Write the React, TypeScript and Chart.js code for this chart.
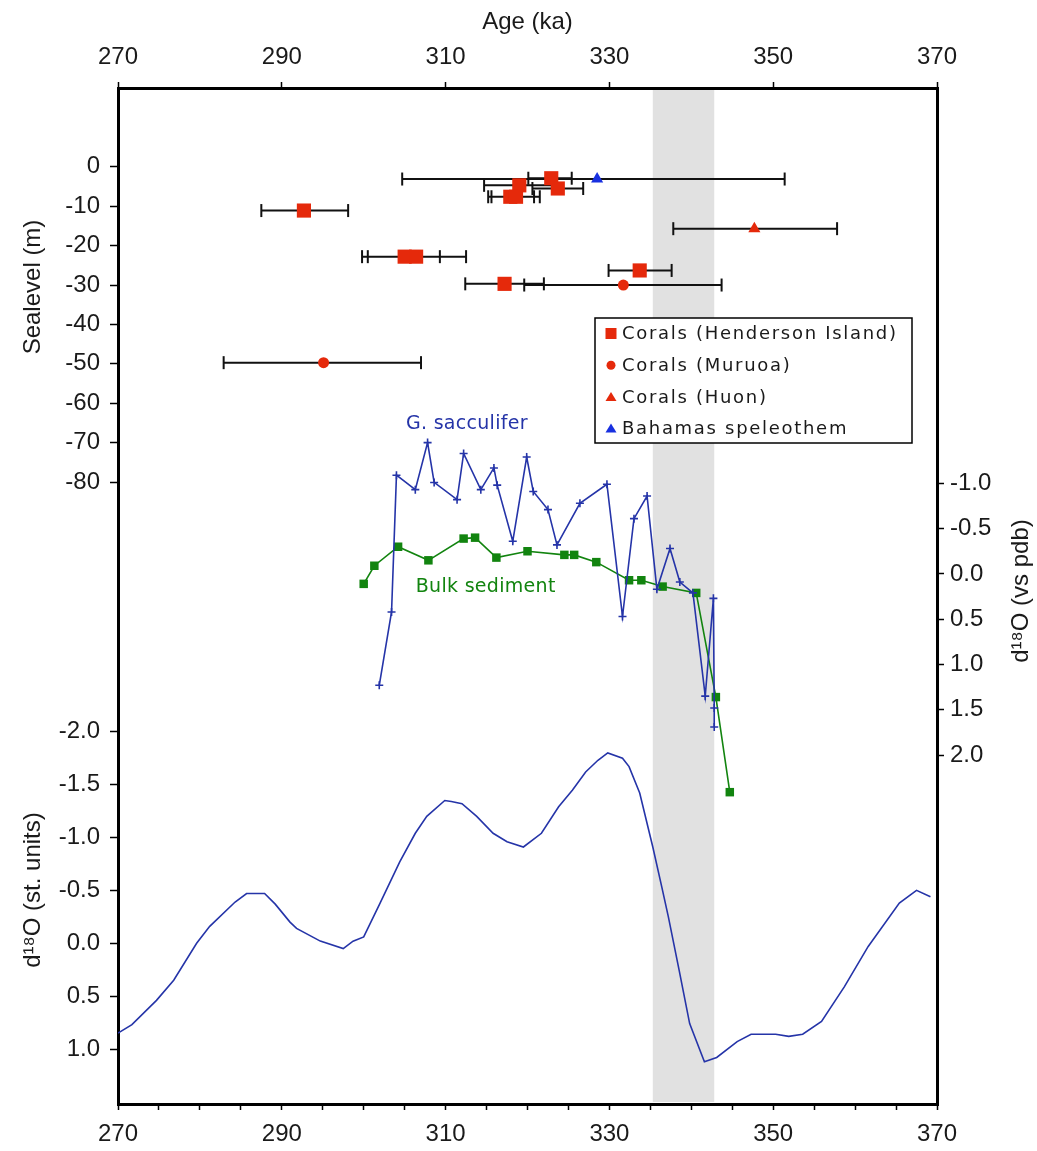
import React, { useEffect, useRef } from 'react';
import { Chart, registerables } from 'chart.js';

Chart.register(...registerables);

// ---------------- axis definitions ----------------
const ageMin = 270;
const ageMax = 370;
const ageTickLabels = [270, 290, 310, 330, 350, 370];
const sealevelTicks = [0, -10, -20, -30, -40, -50, -60, -70, -80];
const stdTicks = [-2.0, -1.5, -1.0, -0.5, 0.0, 0.5, 1.0];
const pdbTicks = [-1.0, -0.5, 0.0, 0.5, 1.0, 1.5, 2.0];

// ---------------- sea level data (age ka, sea level m, age error range) ----------------
const hendersonAge = [292.7, 305.0, 306.4, 317.2, 333.7, 322.9, 319.0, 323.7, 317.9, 318.6];
const hendersonLevel = [-11.1, -22.8, -22.8, -29.7, -26.3, -2.9, -4.7, -5.5, -7.6, -7.6];
const hendersonAgeMin = [287.5, 299.8, 300.5, 312.4, 329.9, 320.1, 314.7, 320.6, 315.2, 315.6];
const hendersonAgeMax = [298.1, 309.3, 312.5, 322.0, 337.6, 325.4, 323.3, 326.8, 320.8, 321.5];

const muruoaAge = [295.1, 331.7];
const muruoaLevel = [-49.7, -30.0];
const muruoaAgeMin = [282.9, 319.6];
const muruoaAgeMax = [307.0, 343.7];

const huonAge = [347.7];
const huonLevel = [-15.7];
const huonAgeMin = [337.8];
const huonAgeMax = [357.8];

const bahamasAge = [328.5];
const bahamasLevel = [-3.1];
const bahamasAgeMin = [304.7];
const bahamasAgeMax = [351.4];

// ---------------- d18O (vs pdb) ----------------
const saccAge = [301.9, 303.4, 304.0, 306.3, 307.8, 308.6, 311.4, 312.2, 314.3, 315.9, 316.3, 318.2, 319.9, 320.7, 322.5, 323.6, 326.4, 329.7, 331.6, 333.0, 334.6, 335.8, 337.4, 338.6, 340.2, 341.7, 342.7, 342.8, 342.8];
const saccValue = [1.23, 0.42, -1.09, -0.93, -1.45, -1.01, -0.82, -1.33, -0.93, -1.17, -0.98, -0.36, -1.29, -0.91, -0.71, -0.32, -0.78, -0.99, 0.47, -0.61, -0.86, 0.17, -0.28, 0.09, 0.21, 1.35, 0.27, 1.48, 1.69];

const bulkAge = [300.0, 301.3, 304.2, 307.9, 312.2, 313.6, 316.2, 320.0, 324.5, 325.7, 328.4, 332.4, 333.9, 336.5, 340.6, 343.0, 344.7];
const bulkValue = [0.11, -0.09, -0.30, -0.15, -0.39, -0.40, -0.18, -0.25, -0.21, -0.21, -0.13, 0.07, 0.07, 0.14, 0.21, 1.36, 2.41];

// ---------------- d18O stack (st. units) ----------------
const stackAge = [270.0, 271.7, 274.7, 276.8, 279.6, 281.2, 284.3, 285.7, 287.9, 289.2, 291.0, 291.8, 294.7, 297.5, 298.7, 300.0, 302.0, 304.4, 306.3, 307.7, 309.9, 310.7, 312.0, 313.8, 315.8, 317.5, 319.5, 321.7, 323.8, 325.5, 327.1, 328.6, 329.8, 331.6, 332.4, 333.7, 335.3, 336.4, 337.2, 338.5, 339.8, 341.6, 343.1, 345.6, 347.3, 350.3, 351.9, 353.6, 355.9, 358.7, 361.6, 365.4, 367.5, 369.2];
const stackValue = [0.85, 0.77, 0.54, 0.35, 0.00, -0.16, -0.39, -0.47, -0.47, -0.37, -0.20, -0.14, -0.02, 0.05, -0.02, -0.06, -0.38, -0.77, -1.04, -1.20, -1.35, -1.34, -1.32, -1.20, -1.04, -0.96, -0.91, -1.04, -1.29, -1.45, -1.62, -1.73, -1.80, -1.75, -1.67, -1.42, -0.91, -0.53, -0.25, 0.25, 0.76, 1.12, 1.08, 0.93, 0.86, 0.86, 0.88, 0.86, 0.74, 0.41, 0.03, -0.38, -0.50, -0.44];

// shaded interval (ka)
const bandStart = 335.3;
const bandEnd = 342.8;

// ---------------- styles ----------------
const RED = '#e5290b';
const BLUE = '#1830e0';
const NAVY = '#2534a8';
const GREEN = '#12840f';
const TXT = '#1a1a1a';
const FONT = '"Liberation Sans", Arial, sans-serif';
const LABEL_FONT = '"DejaVu Sans", Verdana, sans-serif';
const RIGHT_TITLE = 'd¹⁸O (vs pdb)';

const legendItems = [
  { label: 'Corals (Henderson Island)', shape: 'rect', color: RED },
  { label: 'Corals (Muruoa)', shape: 'circle', color: RED },
  { label: 'Corals (Huon)', shape: 'triangle', color: RED },
  { label: 'Bahamas speleothem', shape: 'triangle', color: BLUE },
];

const seriesLabels = [
  { text: 'G. sacculifer', age: 312.6, value: -1.65, color: NAVY },
  { text: 'Bulk sediment', age: 314.9, value: 0.14, color: GREEN },
];

const toPts = (xs: number[], ys: number[]) => xs.map((x, i) => ({ x, y: ys[i] }));

function buildErrorBars() {
  const out: { x: number; y: number | null }[] = [];
  const add = (levels: number[], mins: number[], maxs: number[]) => {
    levels.forEach((y, i) => {
      out.push({ x: mins[i], y });
      out.push({ x: maxs[i], y });
      out.push({ x: maxs[i], y: null });
    });
  };
  add(hendersonLevel, hendersonAgeMin, hendersonAgeMax);
  add(muruoaLevel, muruoaAgeMin, muruoaAgeMax);
  add(huonLevel, huonAgeMin, huonAgeMax);
  add(bahamasLevel, bahamasAgeMin, bahamasAgeMax);
  return out;
}

const overlayPlugin = {
  id: 'overlay',
  beforeDatasetsDraw(chart: any) {
    const { ctx, chartArea, scales } = chart;
    const x0 = scales.x.getPixelForValue(bandStart);
    const x1 = scales.x.getPixelForValue(bandEnd);
    ctx.save();
    ctx.fillStyle = '#e1e1e1';
    ctx.fillRect(x0, chartArea.top + 2, x1 - x0, chartArea.bottom - chartArea.top - 4);
    ctx.restore();
  },
  afterDatasetsDraw(chart: any) {
    const { ctx, scales } = chart;
    ctx.save();
    // series labels
    ctx.font = `19px ${LABEL_FONT}`;
    (ctx as any).letterSpacing = '0.3px';
    ctx.textAlign = 'center';
    ctx.textBaseline = 'middle';
    seriesLabels.forEach((s) => {
      ctx.fillStyle = s.color;
      ctx.fillText(s.text, scales.x.getPixelForValue(s.age), scales.yPdb.getPixelForValue(s.value));
    });
    // legend
    const L = 595, T = 318, W = 317, H = 125;
    ctx.fillStyle = '#ffffff';
    ctx.fillRect(L, T, W, H);
    ctx.strokeStyle = '#000';
    ctx.lineWidth = 1.5;
    ctx.strokeRect(L, T, W, H);
    ctx.font = `18px ${LABEL_FONT}`;
    (ctx as any).letterSpacing = '1.7px';
    ctx.textAlign = 'left';
    legendItems.forEach((it, i) => {
      const cy = T + 15.5 + i * 31.7;
      const cx = L + 16;
      ctx.fillStyle = it.color;
      ctx.beginPath();
      if (it.shape === 'rect') {
        ctx.rect(cx - 5.5, cy - 5.5, 11, 11);
      } else if (it.shape === 'circle') {
        ctx.arc(cx, cy, 4.5, 0, Math.PI * 2);
      } else {
        ctx.moveTo(cx, cy - 5);
        ctx.lineTo(cx + 5.5, cy + 4);
        ctx.lineTo(cx - 5.5, cy + 4);
        ctx.closePath();
      }
      ctx.fill();
      ctx.fillStyle = TXT;
      ctx.fillText(it.label, L + 27, cy + 1);
    });
    ctx.restore();

    // right axis title, reading bottom-to-top like the left titles
    const r = scales.yPdb;
    ctx.save();
    (ctx as any).letterSpacing = '0px';
    ctx.font = `24px ${FONT}`;
    ctx.fillStyle = TXT;
    ctx.textAlign = 'center';
    ctx.textBaseline = 'middle';
    ctx.translate(r.right - 15.5, (r.top + r.bottom) / 2 - 5);
    ctx.rotate(-Math.PI / 2);
    ctx.fillText(RIGHT_TITLE, 0, 0);
    ctx.restore();
  },
};

export default function App() {
  const canvasRef = useRef<HTMLCanvasElement | null>(null);

  useEffect(() => {
    if (!canvasRef.current) return;
    const tickFont = { family: FONT, size: 24 };
    const titleFont = { family: FONT, size: 24 };
    const border = { display: true, width: 3, color: '#000' };
    const gridFor = (len: number) => ({
      drawOnChartArea: false,
      drawTicks: true,
      tickLength: len,
      tickWidth: 1.5,
      tickColor: '#000',
      lineWidth: 3,
      color: '#000',
    });

    const chart = new Chart(canvasRef.current, {
      type: 'line',
      data: {
        datasets: [
          {
            label: 'Corals (Henderson Island)',
            data: toPts(hendersonAge, hendersonLevel),
            xAxisID: 'x',
            yAxisID: 'ySea',
            showLine: false,
            pointStyle: 'rect',
            pointRadius: 10,
            pointBackgroundColor: RED,
            pointBorderColor: RED,
            pointBorderWidth: 0,
            order: 0,
          },
          {
            label: 'Corals (Muruoa)',
            data: toPts(muruoaAge, muruoaLevel),
            xAxisID: 'x',
            yAxisID: 'ySea',
            showLine: false,
            pointStyle: 'circle',
            pointRadius: 5.5,
            pointBackgroundColor: RED,
            pointBorderColor: RED,
            pointBorderWidth: 0,
            order: 0,
          },
          {
            label: 'Corals (Huon)',
            data: toPts(huonAge, huonLevel),
            xAxisID: 'x',
            yAxisID: 'ySea',
            showLine: false,
            pointStyle: 'triangle',
            pointRadius: 7,
            pointBackgroundColor: RED,
            pointBorderColor: RED,
            pointBorderWidth: 0,
            order: 0,
          },
          {
            label: 'Bahamas speleothem',
            data: toPts(bahamasAge, bahamasLevel),
            xAxisID: 'x',
            yAxisID: 'ySea',
            showLine: false,
            pointStyle: 'triangle',
            pointRadius: 7,
            pointBackgroundColor: BLUE,
            pointBorderColor: BLUE,
            pointBorderWidth: 0,
            order: 0,
          },
          {
            label: 'age errors',
            data: buildErrorBars(),
            xAxisID: 'x',
            yAxisID: 'ySea',
            borderColor: '#111',
            borderWidth: 2,
            spanGaps: false,
            pointStyle: 'line',
            pointRotation: 90,
            pointRadius: 6.5,
            pointBorderWidth: 2,
            pointBorderColor: '#111',
            order: 5,
          },
          {
            label: 'G. sacculifer',
            data: toPts(saccAge, saccValue),
            xAxisID: 'x',
            yAxisID: 'yPdb',
            borderColor: NAVY,
            borderWidth: 1.6,
            pointStyle: 'cross',
            pointRadius: 4,
            pointBorderWidth: 1.6,
            pointBorderColor: NAVY,
            pointBackgroundColor: NAVY,
            order: 2,
          },
          {
            label: 'Bulk sediment',
            data: toPts(bulkAge, bulkValue),
            xAxisID: 'x',
            yAxisID: 'yPdb',
            borderColor: GREEN,
            borderWidth: 1.6,
            pointStyle: 'rect',
            pointRadius: 6,
            pointBorderWidth: 0,
            pointBackgroundColor: GREEN,
            pointBorderColor: GREEN,
            order: 3,
          },
          {
            label: 'd18O stack',
            data: toPts(stackAge, stackValue),
            xAxisID: 'x',
            yAxisID: 'yStd',
            borderColor: NAVY,
            borderWidth: 1.6,
            pointRadius: 0,
            order: 6,
          },
        ],
      },
      options: {
        responsive: false,
        animation: false,
        events: [],
        layout: { padding: 0 },
        plugins: {
          legend: { display: false },
          tooltip: { enabled: false },
        },
        scales: {
          x: {
            type: 'linear',
            position: 'bottom',
            min: ageMin,
            max: ageMax,
            ticks: {
              stepSize: 5,
              autoSkip: false,
              maxRotation: 0,
              padding: 10,
              color: TXT,
              font: tickFont,
              callback: (v: any) => (ageTickLabels.includes(Number(v)) ? String(v) : ''),
            },
            grid: gridFor(6),
            border,
            afterFit: (s: any) => {
              s.height = 47;
            },
          },
          x2: {
            type: 'linear',
            position: 'top',
            min: ageMin,
            max: ageMax,
            ticks: {
              stepSize: 20,
              autoSkip: false,
              maxRotation: 0,
              padding: 10,
              color: TXT,
              font: tickFont,
            },
            title: {
              display: true,
              text: 'Age (ka)',
              color: TXT,
              font: titleFont,
              padding: { top: 7.6, bottom: 0 },
            },
            grid: gridFor(6),
            border,
            afterFit: (s: any) => {
              s.height = 88;
            },
          },
          ySea: {
            type: 'linear',
            position: 'left',
            stack: 'left',
            stackWeight: 398,
            weight: 3,
            min: -81,
            max: 20,
            afterBuildTicks: (s: any) => {
              s.ticks = sealevelTicks.map((v) => ({ value: v }));
            },
            ticks: {
              autoSkip: false,
              padding: 10,
              color: TXT,
              font: tickFont,
              callback: (v: any) => String(v),
            },
            title: {
              display: true,
              text: 'Sealevel (m)',
              color: TXT,
              font: titleFont,
              padding: { top: 18.6, bottom: 0 },
            },
            grid: gridFor(8),
            border,
            afterFit: (s: any) => {
              s.width = 118;
            },
          },
          yGap: {
            type: 'linear',
            position: 'left',
            stack: 'left',
            stackWeight: 190,
            weight: 2,
            min: 0,
            max: 1,
            ticks: { display: false },
            grid: { display: false, drawTicks: false },
            border,
            afterFit: (s: any) => {
              s.width = 118;
            },
          },
          yStd: {
            type: 'linear',
            position: 'left',
            stack: 'left',
            stackWeight: 428,
            weight: 1,
            reverse: true,
            min: -2.527,
            max: 1.52,
            afterBuildTicks: (s: any) => {
              s.ticks = stdTicks.map((v) => ({ value: v }));
            },
            ticks: {
              autoSkip: false,
              padding: 10,
              color: TXT,
              font: tickFont,
              callback: (v: any) => Number(v).toFixed(1),
            },
            title: {
              display: true,
              text: 'd¹⁸O (st. units)',
              color: TXT,
              font: titleFont,
              padding: { top: 18.6, bottom: 0 },
            },
            grid: gridFor(8),
            border,
            afterFit: (s: any) => {
              s.width = 118;
            },
          },
          yPdb: {
            type: 'linear',
            position: 'right',
            reverse: true,
            min: -5.365,
            max: 5.853,
            afterBuildTicks: (s: any) => {
              s.ticks = pdbTicks.map((v) => ({ value: v }));
            },
            ticks: {
              autoSkip: false,
              padding: 6,
              color: TXT,
              font: tickFont,
              callback: (v: any) => Number(v).toFixed(1),
            },
            title: { display: false },
            grid: gridFor(7),
            border,
            afterFit: (s: any) => {
              s.width = 100;
            },
          },
        },
      } as any,
      plugins: [overlayPlugin],
    });
    return () => chart.destroy();
  }, []);

  return (
    <div style={{ position: 'absolute', left: 0, top: 0, width: 1037, height: 1151, background: '#fff' }}>
      <canvas ref={canvasRef} width={1037} height={1151} style={{ display: 'block', width: 1037, height: 1151 }} />
    </div>
  );
}
